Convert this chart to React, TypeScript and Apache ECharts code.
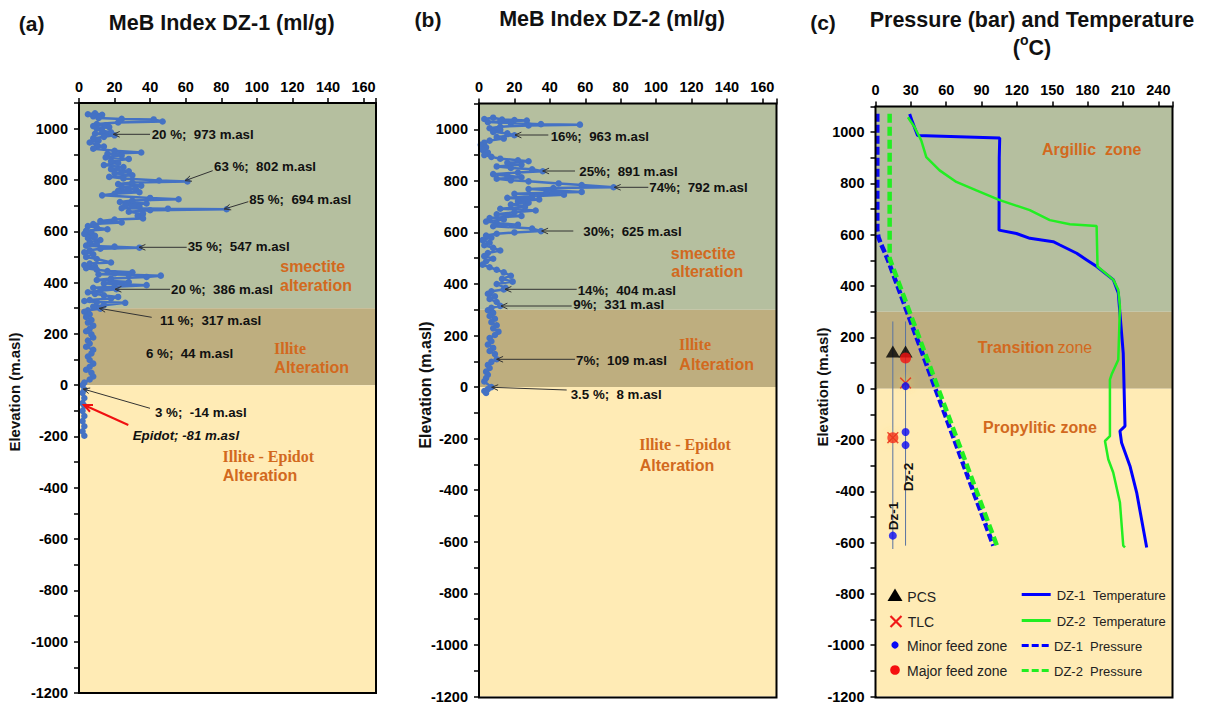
import React, { useEffect, useRef } from "react";
import * as echarts from "echarts";

const FONT = "'Liberation Sans', Arial, Helvetica, sans-serif";
const SERIF = "'Liberation Serif', 'Times New Roman', serif";
const ORANGE = "#D2691E";

// elevation axis (m.asl)
const elevMin = -1200;
const elevMax = 1100;
const elevStep = 100;

// alteration zones (elevation bounds) and colours
const zoneTop = [1100, 300, 0];
const zoneBottom = [300, 0, -1200];
const zoneColors = ["#B5BF9F", "#BEAE7F", "#FFEBB5"];

// x axis maxima per panel
const mebMaxA = 167;
const mebMaxB = 168;
const ptMaxC = 252;

// MeB index DZ-1 [value ml/g, elevation]
const mebDz1: [number, number][] = [
  [5, 1056], [9, 1060], [13, 1054], [8, 1048], [11, 1042], [24, 1038], [42, 1036], [47, 1028], [22, 1024], [10, 1018],
  [8, 1010], [15, 1013], [17, 1006], [10, 1000], [13, 992], [18, 986], [9, 980], [20, 974], [14, 968], [8, 962],
  [11, 954], [6, 946], [10, 938], [14, 930], [8, 922], [20, 914], [35, 907], [16, 902], [24, 896], [15, 888],
  [28, 882], [18, 874], [22, 866], [14, 858], [25, 850], [18, 842], [28, 834], [20, 826], [30, 818], [17, 812],
  [25, 806], [45, 798], [61, 794], [30, 790], [22, 784], [35, 778], [24, 772], [32, 765], [22, 758], [34, 752],
  [20, 746], [13, 740], [40, 730], [56, 725], [30, 720], [23, 714], [38, 708], [26, 702], [34, 696], [24, 690],
  [50, 688], [83, 686], [40, 682], [28, 676], [36, 668], [33, 660], [36, 650], [20, 646], [12, 640], [24, 634],
  [8, 628], [5, 620], [10, 614], [16, 608], [4, 602], [7, 596], [3, 590], [9, 582], [5, 574], [12, 566],
  [6, 558], [10, 550], [4, 544], [20, 540], [34, 536], [12, 532], [6, 526], [3, 518], [8, 510], [4, 500],
  [10, 492], [18, 478], [6, 474], [3, 468], [9, 462], [4, 456], [10, 450], [16, 445], [30, 440], [20, 436],
  [11, 432], [28, 430], [46, 427], [38, 422], [18, 416], [10, 410], [28, 402], [14, 396], [38, 390], [20, 384],
  [8, 380], [21, 374], [12, 368], [5, 362], [9, 356], [14, 350], [22, 344], [18, 338], [6, 332], [3, 328],
  [10, 324], [26, 321], [14, 312], [8, 306], [12, 298], [5, 292], [3, 286], [6, 276], [4, 266], [7, 254],
  [5, 244], [8, 232], [6, 220], [4, 210], [7, 198], [8, 186], [5, 174], [6, 162], [4, 150], [8, 138],
  [7, 124], [5, 112], [6, 98], [8, 84], [6, 72], [4, 60], [7, 48], [8, 34], [6, 22], [3, 10],
  [2, 0], [3, -17], [2, -30], [3, -50], [2, -70], [3, -80], [2, -100], [3, -120], [2, -140], [3, -160],
  [2, -180], [3, -197],
];

// MeB index DZ-2 [value ml/g, elevation]
const mebDz2: [number, number][] = [
  [3, 1040], [8, 1045], [13, 1038], [20, 1036], [27, 1034], [12, 1030], [5, 1028], [18, 1024], [35, 1020], [57, 1018],
  [28, 1015], [12, 1010], [6, 1004], [12, 998], [8, 990], [16, 984], [20, 977], [10, 970], [14, 964], [6, 956],
  [3, 948], [1, 940], [4, 930], [2, 920], [5, 910], [3, 900], [7, 893], [12, 886], [22, 880], [28, 876],
  [16, 870], [24, 862], [10, 856], [18, 850], [30, 845], [36, 837], [22, 832], [8, 826], [16, 820], [24, 814],
  [10, 808], [18, 802], [28, 798], [45, 790], [58, 784], [76, 775], [42, 772], [28, 768], [58, 757], [38, 754],
  [20, 750], [48, 746], [30, 740], [16, 734], [34, 728], [22, 722], [28, 715], [18, 708], [26, 700], [12, 692],
  [32, 685], [20, 678], [10, 670], [24, 664], [6, 656], [14, 650], [4, 642], [10, 636], [22, 630], [8, 624],
  [30, 615], [35, 605], [20, 600], [10, 595], [4, 588], [7, 580], [2, 570], [6, 560], [3, 550], [8, 540],
  [12, 530], [5, 520], [3, 508], [8, 498], [4, 488], [2, 475], [6, 465], [10, 455], [14, 445], [18, 432],
  [13, 420], [19, 409], [10, 400], [15, 385], [14, 379], [7, 372], [5, 362], [9, 352], [6, 342], [10, 330],
  [12, 315], [7, 308], [5, 298], [8, 288], [6, 276], [9, 265], [7, 252], [10, 240], [8, 228], [11, 215],
  [9, 202], [6, 190], [7, 178], [5, 165], [8, 152], [6, 140], [9, 128], [10, 108], [7, 98], [5, 86],
  [6, 74], [4, 60], [5, 48], [4, 35], [3, 22], [7, 0], [5, -8], [3, -15], [4, -23],
];

// Panel (c): temperature (°C) and pressure (bar) vs elevation
const tempDz1: [number, number][] = [
  [29, 1071], [31.4, 1039], [35.7, 987], [105.4, 977], [105, 900], [104.8, 618], [119.6, 605], [131, 586],
  [150.8, 573], [156.5, 560], [170.7, 528], [179.2, 502], [187.7, 476], [201.9, 424], [206, 373], [207.4, 294],
  [210.2, 139], [211.7, -146], [207.4, -165], [208.8, -211], [215.9, -301], [221.6, -405], [230.1, -619],
];
const tempDz2: [number, number][] = [
  [27.5, 1058], [33.2, 1019], [38.8, 968], [43.1, 903], [54.4, 851], [68.6, 806], [85.6, 773], [105.4, 735],
  [130.9, 696], [147.9, 657], [164.9, 641], [187.6, 634], [188.4, 476], [201.9, 424], [206, 385], [207.4, 320],
  [206, 113], [200.3, 55], [198.9, 35], [198.9, -185], [194.7, -204], [197.5, -275], [201.7, -327], [207.4, -444],
  [210.2, -612], [211.7, -619],
];
const presDz1: [number, number][] = [
  [1.5, 1072], [1.5, 620], [2.5, 590], [5, 560], [8, 530], [10.5, 502], [100, -612],
];
const presDz2: [number, number][] = [
  [12, 1072], [12, 508], [104, -624],
];
const wellDz1: [number, number][] = [[14.7, 262], [14.7, -625]];
const wellDz2: [number, number][] = [[25.5, 262], [25.5, -612]];
const pcs: [number, number][] = [[14.7, 145], [25.5, 145]];
const tlc: [number, number][] = [[25.5, 22], [14.7, -191]];
const majorFeed: [number, number][] = [[25.5, 120], [14.7, -191]];
const minorFeed: [number, number][] = [[25.5, 10], [25.5, -169], [25.5, -220], [14.7, -573]];

const grids = [
  { left: 79, top: 103, width: 297, height: 590 },
  { left: 479, top: 103.5, width: 297.5, height: 594 },
  { left: 875.5, top: 106.5, width: 297, height: 591 },
];

function zonesMarkArea() {
  return {
    silent: true,
    data: zoneTop.map((t, i) => [
      { yAxis: zoneBottom[i], itemStyle: { color: zoneColors[i] } },
      { yAxis: t },
    ]),
  };
}

function txt(text: string, x: number, y: number, o: any = {}) {
  return {
    type: "text",
    x,
    y,
    z: 100,
    rotation: o.rotation || 0,
    style: {
      text,
      fill: o.color || "#111",
      fontSize: o.size || 12,
      fontWeight: o.weight || "bold",
      fontStyle: o.italic ? "italic" : "normal",
      fontFamily: o.family || FONT,
      align: o.align || "left",
      verticalAlign: "middle",
      textAlign: o.align || "left",
      textVerticalAlign: "middle",
    },
  };
}

function arrow(x1: number, y1: number, x2: number, y2: number, color = "#333", w = 1, h = 7) {
  const a = Math.atan2(y2 - y1, x2 - x1);
  const s = 0.42;
  const p1 = [x2 - h * Math.cos(a - s), y2 - h * Math.sin(a - s)];
  const p2 = [x2 - h * Math.cos(a + s), y2 - h * Math.sin(a + s)];
  return [
    { type: "line", z: 90, shape: { x1, y1, x2, y2 }, style: { stroke: color, lineWidth: w } },
    { type: "polyline", z: 90, shape: { points: [p1, [x2, y2], p2] }, style: { stroke: color, lineWidth: w, fill: null } },
  ];
}

function yAxisCfg(gridIndex: number) {
  return {
    type: "value",
    gridIndex,
    min: elevMin,
    max: elevMax,
    interval: elevStep,
    axisLine: { show: true, onZero: false, lineStyle: { color: "#000", width: 2 } },
    axisTick: { show: true, length: 5, lineStyle: { color: "#000", width: 1.5 } },
    axisLabel: {
      formatter: (v: number) => (v % 200 === 0 ? String(v) : ""),
      color: "#000",
      fontWeight: "bold",
      fontSize: 14.5,
      fontFamily: FONT,
      margin: 11,
    },
    splitLine: { show: false },
  };
}

function xAxisCfg(gridIndex: number, max: number, interval: number) {
  return {
    type: "value",
    gridIndex,
    position: "top",
    min: 0,
    max,
    interval,
    axisLine: { show: true, onZero: false, lineStyle: { color: "#000", width: 2 } },
    axisTick: { show: true, length: 5, lineStyle: { color: "#000", width: 1.5 } },
    axisLabel: {
      formatter: (v: number) => (Math.abs(v % interval) < 1e-6 ? String(v) : ""),
      color: "#000",
      fontWeight: "bold",
      fontSize: 14.5,
      fontFamily: FONT,
      margin: 9,
    },
    splitLine: { show: false },
  };
}

const orangeTxt = (t: string, x: number, y: number, serif = false) =>
  txt(t, x, y, { color: ORANGE, size: 16, align: "center", family: serif ? SERIF : FONT });

function buildGraphics() {
  const g: any[] = [];
  // frames
  grids.forEach((gr) =>
    g.push({
      type: "rect",
      z: 95,
      shape: { x: gr.left, y: gr.top, width: gr.width, height: gr.height },
      style: { fill: null, stroke: "#000", lineWidth: 2 },
    })
  );
  // titles
  g.push(txt("(a)", 31.7, 23, { size: 21, align: "center" }));
  g.push(txt("MeB Index DZ-1 (ml/g)", 221.7, 23, { size: 21.5, align: "center" }));
  g.push(txt("(b)", 428, 19, { size: 21, align: "center" }));
  g.push(txt("MeB Index DZ-2 (ml/g)", 612, 19, { size: 21.5, align: "center" }));
  g.push(txt("(c)", 823, 22, { size: 21, align: "center" }));
  g.push(txt("Pressure (bar) and Temperature", 1032, 20, { size: 21.5, align: "center" }));
  g.push({
    type: "text",
    x: 1032,
    y: 46,
    z: 100,
    style: {
      text: "{n|(}{s|o}{n|C)}",
      align: "center",
      verticalAlign: "middle",
      textAlign: "center",
      textVerticalAlign: "middle",
      rich: {
        n: { fontSize: 21.5, fontWeight: "bold", fontFamily: FONT, fill: "#111", lineHeight: 26, verticalAlign: "bottom" },
        s: { fontSize: 14, fontWeight: "bold", fontFamily: FONT, fill: "#111", lineHeight: 26, verticalAlign: "top" },
      },
    },
  });
  // y axis names
  g.push(txt("Elevation (m.asl)", 14, 392, { size: 15, align: "center", rotation: Math.PI / 2 }));
  g.push(txt("Elevation (m.asl)", 425, 385, { size: 16, align: "center", rotation: Math.PI / 2 }));
  g.push(txt("Elevation (m.asl)", 822.5, 387, { size: 15, align: "center", rotation: Math.PI / 2 }));

  // panel (a) annotations
  const annA: [string, number, number, number[]?][] = [
    ["20 %;  973 m.asl", 151.7, 134.3, [150, 134.3, 113.3, 134.3]],
    ["63 %;  802 m.asl", 214, 166.7, [212.7, 170.7, 185, 180.7]],
    ["85 %;  694 m.asl", 249.3, 199.3, [248.3, 201.7, 224.3, 209]],
    ["35 %;  547 m.asl", 187.7, 246.7, [186.7, 247.3, 139, 247.3]],
    ["20 %;  386 m.asl", 171, 289.3, [170, 289.3, 115, 289.3]],
    ["11 %;  317 m.asl", 160, 320, [151.7, 317.3, 99.3, 308.3]],
    ["6 %;  44 m.asl", 146, 353.3],
    ["3 %;  -14 m.asl", 155, 412.7, [150, 408.3, 83.3, 389]],
  ];
  const annB: [string, number, number, number[]?][] = [
    ["16%;  963 m.asl", 550.7, 136, [548.3, 135, 515, 135]],
    ["25%;  891 m.asl", 579.3, 171.7, [575, 171, 542.7, 171]],
    ["74%;  792 m.asl", 649.3, 187.7, [648.3, 187.3, 614.3, 187.3]],
    ["30%;  625 m.asl", 583.3, 231.7, [573.3, 231, 541.7, 231]],
    ["14%;  404 m.asl", 577.7, 290, [576.7, 289.3, 505, 289.3]],
    ["9%;  331 m.asl", 573.3, 304.3, [571.7, 306, 501, 306]],
    ["7%;  109 m.asl", 576, 360, [575, 359.3, 496.7, 359.3]],
    ["3.5 %;  8 m.asl", 570.7, 394, [566.7, 390, 491.7, 387.3]],
  ];
  [...annA, ...annB].forEach(([t, x, y, ar]) => {
    g.push(txt(t.replace("  ", " \u00a0"), x, y, { size: 13.3 }));
    if (ar) arrow(ar[0], ar[1], ar[2], ar[3]).forEach((e) => g.push(e));
  });
  arrow(128.3, 425, 84, 405, "#F01010", 2, 9).forEach((e) => g.push(e));
  g.push(txt("Epidot; -81 m.asl", 132.7, 435, { size: 13.3, italic: true }));

  // zone labels (a)
  g.push(orangeTxt("smectite", 312.7, 266));
  g.push(orangeTxt("alteration", 316, 285));
  g.push(orangeTxt("Illite", 290, 348.3, true));
  g.push(orangeTxt("Alteration", 311.7, 367.3));
  g.push(orangeTxt("Illite - Epidot", 268.3, 456, true));
  g.push(orangeTxt("Alteration", 260, 475));
  // zone labels (b)
  g.push(orangeTxt("smectite", 703.3, 253.3));
  g.push(orangeTxt("alteration", 707.3, 271.7));
  g.push(orangeTxt("Illite", 695, 344, true));
  g.push(orangeTxt("Alteration", 716.7, 364));
  g.push(orangeTxt("Illite - Epidot", 685, 444, true));
  g.push(orangeTxt("Alteration", 677, 465));
  // zone labels (c)
  g.push(orangeTxt("Argillic  zone", 1091.7, 149));
  g.push({
    type: "text",
    x: 1035,
    y: 347,
    z: 100,
    style: {
      text: "{b|Transition} {n|zone}",
      align: "center",
      verticalAlign: "middle",
      textAlign: "center",
      textVerticalAlign: "middle",
      rich: {
        b: { fontSize: 16, fontWeight: "bold", fontFamily: FONT, fill: ORANGE },
        n: { fontSize: 16, fontWeight: "normal", fontFamily: FONT, fill: ORANGE },
      },
    },
  });
  g.push(orangeTxt("Propylitic zone", 1040, 427));
  // well labels
  g.push(txt("Dz-1", 893.3, 516, { size: 13.5, align: "center", rotation: Math.PI / 2 }));
  g.push(txt("Dz-2", 908.3, 477, { size: 13.5, align: "center", rotation: Math.PI / 2 }));

  // legend (c)
  g.push({ type: "polygon", z: 100, shape: { points: [[895, 588.5], [887.5, 601], [902.5, 601]] }, style: { fill: "#000" } });
  g.push({ type: "line", z: 100, shape: { x1: 890.5, y1: 616, x2: 901.5, y2: 627 }, style: { stroke: "#F01818", lineWidth: 2.2 } });
  g.push({ type: "line", z: 100, shape: { x1: 901.5, y1: 616, x2: 890.5, y2: 627 }, style: { stroke: "#F01818", lineWidth: 2.2 } });
  g.push({ type: "circle", z: 100, shape: { cx: 895, cy: 645, r: 3.6 }, style: { fill: "#0A0AF5" } });
  g.push({ type: "circle", z: 100, shape: { cx: 895, cy: 670, r: 4.8 }, style: { fill: "#F51010" } });
  g.push(txt("PCS", 907.3, 597, { size: 14, weight: "normal", color: "#222" }));
  g.push(txt("TLC", 907.7, 622, { size: 14, weight: "normal", color: "#222" }));
  g.push(txt("Minor feed zone", 907, 645.5, { size: 14, weight: "normal", color: "#222" }));
  g.push(txt("Major feed zone", 907, 670.5, { size: 14, weight: "normal", color: "#222" }));
  const legLines: [number, string, number[] | null, string][] = [
    [594.5, "#0000FF", null, "DZ-1  Temperature"],
    [620.5, "#22EE22", null, "DZ-2  Temperature"],
    [645.5, "#0000FF", [7, 3], "DZ-1  Pressure"],
    [670.5, "#22EE22", [7, 3], "DZ-2  Pressure"],
  ];
  legLines.forEach(([y, c, d, t]) => {
    g.push({ type: "line", z: 100, shape: { x1: 1021.7, y1: y, x2: 1050.7, y2: y }, style: { stroke: c, lineWidth: 3, lineDash: d || undefined } });
    g.push(txt(t.replace("  ", " \u00a0"), d ? 1054 : 1056.7, y + 1, { size: 13, weight: "normal", color: "#222" }));
  });
  return g;
}

function mebSeries(data: [number, number][], idx: number) {
  return {
    type: "line",
    xAxisIndex: idx,
    yAxisIndex: idx,
    data,
    symbol: "circle",
    symbolSize: 6.5,
    showAllSymbol: true,
    lineStyle: { color: "#4472C4", width: 2.5 },
    itemStyle: { color: "#4472C4" },
    markArea: zonesMarkArea(),
    z: 2,
  };
}

function lineC(data: [number, number][], color: string, width: number, dash?: number[]) {
  return {
    type: "line",
    xAxisIndex: 2,
    yAxisIndex: 2,
    data,
    showSymbol: false,
    symbol: "none",
    lineStyle: { color, width, type: dash || "solid" },
    z: 2,
  };
}

const xShape = "path://M1,0L5,4L9,0L10,1L6,5L10,9L9,10L5,6L1,10L0,9L4,5L0,1Z";

export default function App() {
  const ref = useRef<HTMLDivElement>(null);
  useEffect(() => {
    if (!ref.current) return;
    const chart = echarts.init(ref.current, null, { renderer: "svg" });
    const presD1: any = lineC(presDz1, "#0A0AF0", 4.5, [8, 3]);
    presD1.markArea = zonesMarkArea();
    const option: any = {
      animation: false,
      backgroundColor: "#fff",
      grid: grids.map((g) => ({ ...g, show: false, containLabel: false })),
      xAxis: [xAxisCfg(0, mebMaxA, 20), xAxisCfg(1, mebMaxB, 20), xAxisCfg(2, ptMaxC, 30)],
      yAxis: [yAxisCfg(0), yAxisCfg(1), yAxisCfg(2)],
      series: [
        mebSeries(mebDz1, 0),
        mebSeries(mebDz2, 1),
        presD1,
        lineC(presDz2, "#22EE22", 4.5, [9, 4]),
        lineC(tempDz1, "#0000FF", 3),
        lineC(tempDz2, "#22EE22", 2.5),
        lineC(wellDz1, "#5A74A0", 1),
        lineC(wellDz2, "#5A74A0", 1),
        {
          type: "scatter", xAxisIndex: 2, yAxisIndex: 2, data: pcs,
          symbol: "triangle", symbolSize: [14, 12], itemStyle: { color: "#000" }, z: 3,
        },
        {
          type: "scatter", xAxisIndex: 2, yAxisIndex: 2, data: majorFeed,
          symbol: "circle", symbolSize: 11, itemStyle: { color: "#F51010" }, z: 3,
        },
        {
          type: "scatter", xAxisIndex: 2, yAxisIndex: 2, data: tlc,
          symbol: xShape, symbolSize: 12,
          itemStyle: { color: "#E81818", shadowBlur: 8, shadowColor: "rgba(255,215,80,0.95)" }, z: 3,
        },
        {
          type: "scatter", xAxisIndex: 2, yAxisIndex: 2, data: minorFeed,
          symbol: "circle", symbolSize: 8, itemStyle: { color: "#0A0AF5" }, z: 3,
        },
      ],
      graphic: buildGraphics(),
    };
    chart.setOption(option);
    return () => chart.dispose();
  }, []);
  return <div ref={ref} style={{ position: "absolute", left: 0, top: 0, width: 1205, height: 704 }} />;
}
